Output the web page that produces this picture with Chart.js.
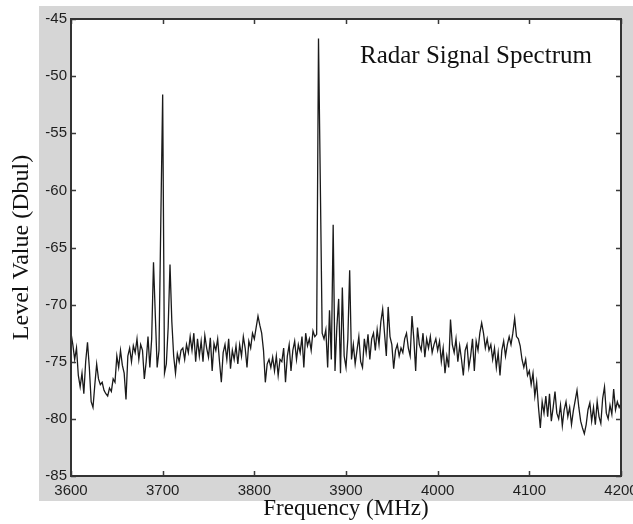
<!DOCTYPE html>
<html>
<head>
<meta charset="utf-8">
<script src="https://cdn.jsdelivr.net/npm/chart.js@4/dist/chart.umd.min.js"></script>
<style>
  html, body { margin: 0; padding: 0; background: #fff; }
  #wrap { width: 633px; height: 524px; position: relative; }
</style>
</head>
<body>
<div id="wrap"><canvas id="spectrum"></canvas></div>
<script>
// frequency grid (MHz): first sample and spacing
const freqStart = 3600;
const freqStep = 2;

// level values (Dbul), one per 2 MHz
const levels = [
    -72.5, -73.5, -74.8, -73.8, -76.2,   // 3600
    -77.2, -76.0, -77.8, -75.0, -73.3,
    -75.5, -78.5, -79.0, -77.0, -75.2,
    -76.5, -77.0, -76.8, -77.5, -77.8,
    -78.0, -77.3, -77.6, -76.5, -76.8,
    -74.5, -75.5, -74.0, -75.3, -76.0,   // 3650
    -78.3, -74.5, -73.8, -75.0, -73.6,
    -74.2, -73.0, -74.8, -73.5, -74.0,
    -76.5, -75.0, -72.8, -75.5, -73.0,
    -66.3, -71.0, -75.5, -74.0, -62.5,
    -51.6, -76.0, -75.2, -72.0, -66.5,   // 3700
    -71.5, -74.5, -76.0, -74.3, -75.0,
    -74.0, -73.8, -74.8, -73.5, -74.2,
    -72.8, -74.0, -72.5, -75.0, -73.0,
    -74.5, -73.2, -75.0, -72.7, -73.8,
    -74.6, -72.9, -75.8, -73.4, -74.0,   // 3750
    -73.0, -75.0, -76.8, -74.2, -73.5,
    -74.8, -73.0, -75.6, -74.0, -74.8,
    -73.6, -75.2, -73.5, -74.5, -72.8,
    -73.8, -75.5, -73.2, -73.8, -72.5,
    -73.0, -72.0, -71.0, -71.8, -72.5,   // 3800
    -74.0, -76.8, -75.2, -74.8, -75.5,
    -74.6, -75.8, -74.5, -76.2, -74.8,
    -75.0, -73.8, -76.8, -74.5, -73.5,
    -75.8, -74.0, -73.2, -74.8, -73.5,
    -74.2, -72.8, -75.5, -72.5, -73.6,   // 3850
    -73.0, -74.0, -72.3, -72.8, -72.6,
    -46.7, -59.5, -72.5, -73.0, -72.2,
    -75.5, -70.5, -74.8, -63.0, -75.8,
    -72.0, -69.5, -76.0, -68.5, -74.5,
    -75.5, -73.0, -67.0, -74.8, -73.5,   // 3900
    -75.2, -74.0, -72.8, -75.0, -75.5,
    -73.0, -74.2, -72.6, -74.8, -73.0,
    -72.5, -74.0, -72.2, -73.5, -71.5,
    -70.4, -72.5, -74.5, -70.2, -72.8,
    -73.5, -75.6, -74.0, -73.5, -74.5,   // 3950
    -73.8, -74.2, -73.0, -72.5, -73.8,
    -74.5, -71.0, -73.0, -75.8, -72.0,
    -73.5, -74.0, -72.5, -74.6, -73.0,
    -73.8, -72.8, -74.2, -73.5, -73.0,
    -74.0, -73.2, -75.0, -73.8, -76.0,   // 4000
    -74.5, -75.5, -71.3, -73.5, -74.2,
    -73.0, -75.0, -73.6, -74.8, -76.2,
    -74.0, -73.5, -75.5, -74.5, -73.0,
    -75.8, -73.2, -74.0, -72.5, -71.6,
    -72.5, -73.8, -73.0, -74.0, -73.5,   // 4050
    -74.8, -73.8, -75.5, -74.2, -76.2,
    -74.0, -73.2, -74.5, -73.5, -72.8,
    -73.5, -72.5, -71.2, -72.8, -73.0,
    -73.6, -74.8, -75.5, -74.8, -76.2,
    -75.8, -77.0, -76.0, -78.0, -76.8,   // 4100
    -79.0, -80.8, -78.5, -79.5, -78.0,
    -79.8, -77.8, -80.2, -79.0, -77.6,
    -79.5, -80.0, -78.8, -80.6, -79.2,
    -78.5, -79.8, -79.0, -80.5, -79.3,
    -78.4, -77.5, -79.0, -80.2, -80.8,   // 4150
    -81.3, -80.5, -79.2, -78.6, -80.2,
    -79.0, -80.5, -78.5, -79.8, -80.4,
    -78.2, -77.2, -79.5, -80.0, -78.8,
    -79.6, -77.4, -79.2, -78.5, -79.0,
    -78.6                                // 4200
];

const xTicks = [3600, 3700, 3800, 3900, 4000, 4100, 4200];
const yTicks = [-85, -80, -75, -70, -65, -60, -55, -50, -45];

const points = levels.map((v, i) => ({ x: freqStart + i * freqStep, y: v }));

// gray frame behind the axes, white plot area, inward ticks and box
const framePlugin = {
    id: 'frame',
    beforeDraw(chart) {
        const { ctx, chartArea: a } = chart;
        ctx.save();
        ctx.fillStyle = '#ffffff';
        ctx.fillRect(0, 0, chart.width, chart.height);
        ctx.fillStyle = '#d6d6d6';
        ctx.fillRect(39, 6, chart.width - 39, 495);
        ctx.fillStyle = '#ffffff';
        ctx.fillRect(a.left, a.top, a.right - a.left, a.bottom - a.top);
        ctx.restore();
    },
    afterDraw(chart) {
        const { ctx, chartArea: a, scales } = chart;
        ctx.save();
        ctx.strokeStyle = '#3a3a3a';
        ctx.lineWidth = 1.5;
        ctx.beginPath();
        xTicks.forEach(t => {
            const px = Math.round(scales.x.getPixelForValue(t)) + 0.5;
            ctx.moveTo(px, a.bottom); ctx.lineTo(px, a.bottom - 5);
            ctx.moveTo(px, a.top); ctx.lineTo(px, a.top + 5);
        });
        yTicks.forEach(t => {
            const py = Math.round(scales.y.getPixelForValue(t)) + 0.5;
            ctx.moveTo(a.left, py); ctx.lineTo(a.left + 5, py);
            ctx.moveTo(a.right, py); ctx.lineTo(a.right - 5, py);
        });
        ctx.stroke();
        ctx.lineWidth = 2;
        ctx.strokeStyle = '#333333';
        ctx.strokeRect(a.left, a.top, a.right - a.left, a.bottom - a.top);

        ctx.fillStyle = '#111111';
        ctx.font = '25px "Liberation Serif", "Times New Roman", serif';
        ctx.textBaseline = 'alphabetic';
        ctx.textAlign = 'left';
        ctx.fillText('Radar Signal Spectrum', 360, 63);
        ctx.restore();
    }
};

const tickFont = { family: '"Liberation Sans", Arial, sans-serif', size: 15 };

new Chart(document.getElementById('spectrum'), {
    type: 'line',
    data: {
        datasets: [{
            data: points,
            borderColor: '#1a1a1a',
            borderWidth: 1.3,
            pointRadius: 0,
            tension: 0,
            fill: false
        }]
    },
    options: {
        responsive: true,
        maintainAspectRatio: false,
        animation: false,
        events: [],
        layout: { padding: { left: 0, top: 19, right: 12, bottom: 0 } },
        plugins: {
            legend: { display: false },
            tooltip: { enabled: false }
        },
        scales: {
            x: {
                type: 'linear',
                min: 3600,
                max: 4200,
                afterBuildTicks(s) { s.ticks = xTicks.map(v => ({ value: v })); },
                afterFit(s) { s.height = 48; s.paddingLeft = 0; s.paddingRight = 0; },
                grid: { display: false, drawTicks: false },
                border: { display: false },
                ticks: {
                    autoSkip: false,
                    maxRotation: 0,
                    padding: 6,
                    color: '#1e1e1e',
                    font: tickFont,
                    callback: v => String(v)
                },
                title: {
                    display: true,
                    text: 'Frequency (MHz)',
                    color: '#111111',
                    font: { family: '"Liberation Serif", "Times New Roman", serif', size: 23 },
                    padding: { top: 0, bottom: 1 }
                }
            },
            y: {
                min: -85,
                max: -45,
                afterBuildTicks(s) { s.ticks = yTicks.map(v => ({ value: v })); },
                afterFit(s) { s.width = 71; s.paddingTop = 0; s.paddingBottom = 0; },
                grid: { display: false, drawTicks: false },
                border: { display: false },
                ticks: {
                    autoSkip: false,
                    padding: 4,
                    color: '#1e1e1e',
                    font: tickFont,
                    callback: v => String(v)
                },
                title: {
                    display: true,
                    text: 'Level Value (Dbul)',
                    color: '#111111',
                    font: { family: '"Liberation Serif", "Times New Roman", serif', size: 24 },
                    padding: { top: 7, bottom: 0 }
                }
            }
        }
    },
    plugins: [framePlugin]
});
</script>
</body>
</html>
